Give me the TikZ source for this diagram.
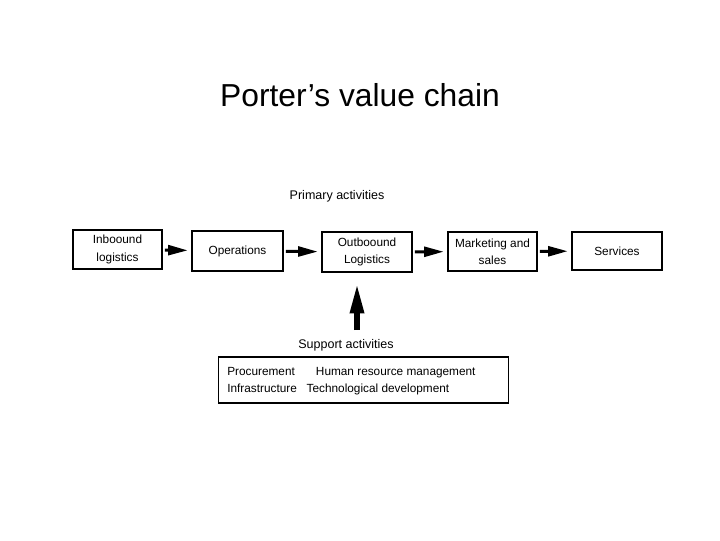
\documentclass[tikz,border=0pt]{standalone}
\usepackage{fontspec}
\setmainfont{Liberation Sans}
\usetikzlibrary{arrows.meta}

\tikzset{
	activity/.style={draw,line width=1pt,align=center,inner sep=1pt,font=\fontsize{8.4}{12.2}\selectfont},
	heading/.style={font=\fontsize{8.9}{10}\selectfont},
	chainarrow/.style={line width=2.1pt,-{Triangle[length=14pt,width=7pt]},shorten <=1.5pt,shorten >=2.5pt},
	uparrow/.style={line width=3.8pt,-{Triangle[length=21pt,width=9.5pt]}}
}

\begin{document}
\begin{tikzpicture}[x=0.025cm,y=-0.025cm]
	
	% page frame, one unit is one pixel of the reference
	\useasboundingbox[fill=white] (0,0) rectangle (720,540);
	
	\node[font=\fontsize{22.6}{26}\selectfont] (title) at (360,95) {Porter’s value chain};
	
	% The primary activities, left to right.
	\node[heading] (primary) at (337,196) {Primary activities};
	\node[activity,minimum width=89*0.025cm,minimum height=39*0.025cm] (inbound) at (117.5,249.5) {Inboound\\logistics};
	\node[activity,minimum width=91*0.025cm,minimum height=40*0.025cm] (operations) at (237.5,251) {Operations};
	\node[activity,minimum width=90*0.025cm,minimum height=40*0.025cm] (outbound) at (367,252) {Outboound\\Logistics};
	\node[activity,minimum width=89*0.025cm,minimum height=39*0.025cm] (marketing) at (492.5,251.5) {Marketing and\\sales};
	\node[activity,minimum width=90*0.025cm,minimum height=38*0.025cm] (services) at (617,251) {Services};
	
	% Now the support activities under the chain
	\node[heading] (support) at (346,345) {Support activities};
	\node[draw,line width=1pt,minimum width=290*0.025cm,minimum height=46*0.025cm] (supportbox) at (363.5,380) {};
	\node[anchor=west,align=left,inner sep=0pt,font=\fontsize{8.4}{12}\selectfont] (supporttext) at (227,381)
		{Procurement\hspace{15pt}Human resource management\\Infrastructure\hspace{7pt}Technological development};
	
	% Draw the arrows between the activities
	\draw[chainarrow] (inbound) -- (operations);
	\draw[chainarrow] (operations) -- (outbound);
	\draw[chainarrow] (outbound) -- (marketing);
	\draw[chainarrow] (marketing) -- (services);
	
	% the big arrow from the support activities up to the chain
	\coordinate (uproot) at (357,330);
	\draw[uparrow,shorten >=8pt] (uproot) -- (uproot |- outbound.south);
	
\end{tikzpicture}
\end{document}
